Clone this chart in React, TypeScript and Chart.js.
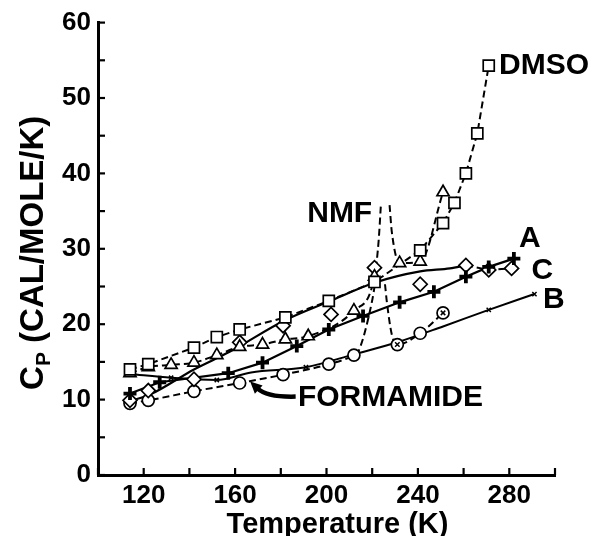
import React, { useEffect, useRef } from "react";
import { Chart, registerables } from "chart.js";
Chart.register(...registerables);

const FONT = '"Liberation Sans", Arial, Helvetica, sans-serif';

// ---- data (T in K, Cp in cal/mole/K) ----
const X_LABELS = [120, 160, 200, 240, 280];
const Y_LABELS = [0, 10, 20, 30, 40, 50, 60];

// DMSO (squares, dashed)
const DMSO_T = [114, 122, 142, 152, 162, 182, 201, 221, 241, 251, 256, 261, 266, 271];
const DMSO_CP = [14.0, 14.7, 16.9, 18.3, 19.3, 20.9, 23.1, 25.6, 29.8, 33.4, 36.1, 40.0, 45.3, 54.3];

// NMF (triangles, dashed) and its anomaly branches
const NMF_T = [114, 122, 132, 142, 152, 162, 172, 182, 192, 212, 221, 232, 241, 251];
const NMF_CP = [13.5, 14.3, 14.6, 14.9, 15.9, 17.0, 17.3, 18.0, 18.4, 21.8, 26.3, 28.1, 28.3, 37.5];
const NMF_RISE_T = [222.8, 223.8];
const NMF_RISE_CP = [31.0, 35.8];
const NMF_FALL_T = [227.6, 228.6];
const NMF_FALL_CP = [35.8, 32.2];

// Formamide (circles, dashed) and its anomaly branches
const FORM_T = [114, 122, 142, 162, 181, 201, 212, 231, 241, 251];
const FORM_CP = [9.5, 9.9, 11.1, 12.2, 13.3, 14.7, 15.9, 17.3, 18.8, 21.5];
const FORM_RISE_T = [214.0, 219.9, 221.2];
const FORM_RISE_CP = [16.4, 23.0, 25.3];
const FORM_FALL_T = [225.6, 226.4, 228.6];
const FORM_FALL_CP = [25.3, 23.0, 18.6];
const FORM_X_T = [231, 251];
const FORM_X_CP = [17.3, 21.5];

// A (plus markers, solid)
const A_T = [114, 127, 157, 172, 187, 201, 216, 232, 247, 261, 271, 282];
const A_CP = [10.8, 12.3, 13.5, 14.9, 17.1, 19.3, 21.1, 22.9, 24.3, 26.3, 27.6, 28.7];

// B (solid curve, small x markers)
const B_T = [114, 132, 152, 167, 191, 212, 231, 251, 271, 291];
const B_CP = [13.4, 12.9, 12.6, 13.6, 14.3, 16.0, 17.6, 19.7, 21.9, 24.0];
const B_MARK_T = [132, 152, 191, 271, 291];

// C (diamonds), smooth fit and dashed tail
const C_T = [114, 122, 142, 162, 181, 202, 221, 241, 261, 271, 281];
const C_CP = [9.9, 11.2, 12.7, 17.6, 19.8, 21.3, 27.5, 25.3, 27.8, 27.2, 27.4];
const C_FIT_T = [114, 123, 142, 158, 181, 201, 221, 241, 254, 261];
const C_FIT_CP = [9.8, 10.7, 14.0, 16.4, 20.4, 23.0, 25.5, 27.0, 27.4, 27.8];
const C_TAIL_FROM = 261;

// ---- helpers ----
type P = { x: number; y: number | null };
const pts = (xs: number[], ys: number[]): P[] => xs.map((x, i) => ({ x, y: ys[i] }));
const withAnomaly = (
  xs: number[], ys: number[],
  rx: number[], ry: number[], fx: number[], fy: number[]
): P[] => {
  const base = pts(xs, ys);
  const before = base.filter((p) => p.x < rx[0]);
  const after = base.filter((p) => p.x > fx[fx.length - 1]);
  const gapX = (rx[rx.length - 1] + fx[0]) / 2;
  return [...before, ...pts(rx, ry), { x: gapX, y: null }, ...pts(fx, fy), ...after];
};

const BLACK = "#000";
const DASH = [7, 4];

const lineDs = (data: P[], dashed: boolean, extra: any = {}) => ({
  data,
  showLine: true,
  borderColor: BLACK,
  borderWidth: 2,
  borderDash: dashed ? DASH : [],
  pointRadius: 0,
  fill: false,
  spanGaps: false,
  ...extra,
});

const markDs = (data: P[], style: string, radius: number, extra: any = {}) => ({
  data,
  showLine: false,
  pointStyle: style,
  pointRadius: radius,
  pointBackgroundColor: "#fff",
  pointBorderColor: BLACK,
  pointBorderWidth: 1.7,
  ...extra,
});

const LABELS = [
  { text: "DMSO", t: 275.5, cp: 54.3, align: "left" },
  { text: "NMF", t: 220, cp: 34.6, align: "right" },
  { text: "A", t: 289, cp: 31.4, align: "center" },
  { text: "C", t: 294.5, cp: 27.1, align: "center" },
  { text: "B", t: 299.5, cp: 23.2, align: "center" },
  { text: "FORMAMIDE", t: 187.5, cp: 10.3, align: "left" },
];
const ARROW = { tail: [186.5, 10.4], ctrl: [174, 10.3], tip: [166.6, 12.4] };

const decor = {
  id: "decor",
  afterDraw(chart: any) {
    const { ctx, chartArea: ca } = chart;
    const xs = chart.scales.x;
    const ys = chart.scales.y;
    ctx.save();
    ctx.strokeStyle = BLACK;
    ctx.fillStyle = BLACK;
    ctx.lineWidth = 2.2;
    // inward ticks
    xs.ticks.forEach((t: any) => {
      const px = xs.getPixelForValue(t.value);
      ctx.beginPath();
      ctx.moveTo(px, ca.bottom);
      ctx.lineTo(px, ca.bottom - 7);
      ctx.stroke();
    });
    ys.ticks.forEach((t: any) => {
      const py = ys.getPixelForValue(t.value);
      ctx.beginPath();
      ctx.moveTo(ca.left, py);
      ctx.lineTo(ca.left + 7, py);
      ctx.stroke();
    });

    // annotation labels
    ctx.font = `bold 30px ${FONT}`;
    ctx.textBaseline = "middle";
    LABELS.forEach((l) => {
      ctx.textAlign = l.align as CanvasTextAlign;
      ctx.fillText(l.text, xs.getPixelForValue(l.t), ys.getPixelForValue(l.cp));
    });

    // arrow
    const P = (a: number[]) => [xs.getPixelForValue(a[0]), ys.getPixelForValue(a[1])];
    const [tx, ty] = P(ARROW.tail);
    const [cx, cy] = P(ARROW.ctrl);
    const [hx, hy] = P(ARROW.tip);
    const ang = Math.atan2(hy - cy, hx - cx);
    const hl = 13;
    const bx = hx - Math.cos(ang) * hl * 0.8;
    const by = hy - Math.sin(ang) * hl * 0.8;
    ctx.lineWidth = 4.5;
    ctx.beginPath();
    ctx.moveTo(tx, ty);
    ctx.quadraticCurveTo(cx, cy, bx, by);
    ctx.stroke();
    ctx.beginPath();
    ctx.moveTo(hx, hy);
    ctx.lineTo(hx - Math.cos(ang - 0.45) * hl, hy - Math.sin(ang - 0.45) * hl);
    ctx.lineTo(hx - Math.cos(ang + 0.45) * hl, hy - Math.sin(ang + 0.45) * hl);
    ctx.closePath();
    ctx.fill();

    // x-axis title
    ctx.textAlign = "center";
    ctx.textBaseline = "alphabetic";
    ctx.font = `bold 29px ${FONT}`;
    ctx.fillText("Temperature (K)", (ca.left + ca.right) / 2 + 11, ca.bottom + 58);

    // y-axis title with subscript
    ctx.translate(43, (ca.top + ca.bottom) / 2 + 4);
    ctx.rotate(-Math.PI / 2);
    const big = `bold 33px ${FONT}`;
    const small = `bold 21px ${FONT}`;
    ctx.font = big;
    const wC = ctx.measureText("C").width;
    const rest = " (CAL/MOLE/K)";
    const wR = ctx.measureText(rest).width;
    ctx.font = small;
    const wP = ctx.measureText("P").width;
    let x0 = -(wC + wP + wR) / 2;
    ctx.textAlign = "left";
    ctx.font = big;
    ctx.fillText("C", x0, 0);
    x0 += wC;
    ctx.font = small;
    ctx.fillText("P", x0, 7);
    x0 += wP;
    ctx.font = big;
    ctx.fillText(rest, x0, 0);
    ctx.restore();
  },
};

export default function App() {
  const ref = useRef<HTMLCanvasElement>(null);
  useEffect(() => {
    const cTail = pts(C_T, C_CP).filter((p) => p.x >= C_TAIL_FROM);
    const bMarks = B_MARK_T.map((t) => ({ x: t, y: B_CP[B_T.indexOf(t)] }));
    const tickFont = { family: FONT, size: 26, weight: "bold" as const };
    const chart = new Chart(ref.current!, {
      type: "scatter",
      data: {
        datasets: [
          markDs(pts(FORM_X_T, FORM_X_CP), "crossRot", 3.2, { pointBorderWidth: 1.5 }),
          markDs(pts(A_T, A_CP), "cross", 6.5, { pointBorderWidth: 3.8 }),
          markDs(bMarks, "crossRot", 3, { pointBorderWidth: 1.5 }),
          markDs(pts(DMSO_T, DMSO_CP), "rect", 7.8),
          markDs(pts(NMF_T, NMF_CP), "triangle", 7),
          markDs(pts(C_T, C_CP), "rectRot", 7),
          markDs(pts(FORM_T, FORM_CP), "circle", 6),
          lineDs(pts(DMSO_T, DMSO_CP), true),
          lineDs(withAnomaly(NMF_T, NMF_CP, NMF_RISE_T, NMF_RISE_CP, NMF_FALL_T, NMF_FALL_CP), true, { cubicInterpolationMode: "monotone" }),
          lineDs(withAnomaly(FORM_T, FORM_CP, FORM_RISE_T, FORM_RISE_CP, FORM_FALL_T, FORM_FALL_CP), true, { cubicInterpolationMode: "monotone" }),
          lineDs(pts(A_T, A_CP), false, { borderWidth: 2.2 }),
          lineDs(pts(B_T, B_CP), false, { cubicInterpolationMode: "monotone" }),
          lineDs(pts(C_FIT_T, C_FIT_CP), false, { cubicInterpolationMode: "monotone", borderWidth: 2.2 }),
          lineDs(cTail, true),
        ] as any,
      },
      options: {
        responsive: false,
        animation: false,
        events: [],
        layout: { padding: { top: 19, right: 38, left: 0, bottom: 0 } },
        plugins: { legend: { display: false }, tooltip: { enabled: false } },
        scales: {
          x: {
            type: "linear",
            min: 100,
            max: 300,
            grid: { drawOnChartArea: false, drawTicks: false },
            border: { display: true, color: BLACK, width: 3 },
            ticks: {
              stepSize: 20,
              autoSkip: false,
              maxRotation: 0,
              padding: 5,
              color: BLACK,
              font: tickFont,
              callback: (v: any) => (X_LABELS.includes(Number(v)) ? String(v) : ""),
            },
            afterFit: (s: any) => { s.height = 61; },
          },
          y: {
            type: "linear",
            min: 0,
            max: 60,
            grid: { drawOnChartArea: false, drawTicks: false },
            border: { display: true, color: BLACK, width: 3 },
            ticks: {
              stepSize: 5,
              autoSkip: false,
              padding: 7,
              color: BLACK,
              font: tickFont,
              callback: (v: any) => (Y_LABELS.includes(Number(v)) ? String(v) : ""),
            },
            afterFit: (s: any) => { s.width = 98; },
          },
        },
      },
      plugins: [decor],
    });
    return () => chart.destroy();
  }, []);
  return (
    <div style={{ position: "fixed", left: 0, top: 0, width: 593, height: 536, background: "#fff" }}>
      <canvas ref={ref} width={593} height={536} style={{ display: "block", width: 593, height: 536 }} />
    </div>
  );
}
